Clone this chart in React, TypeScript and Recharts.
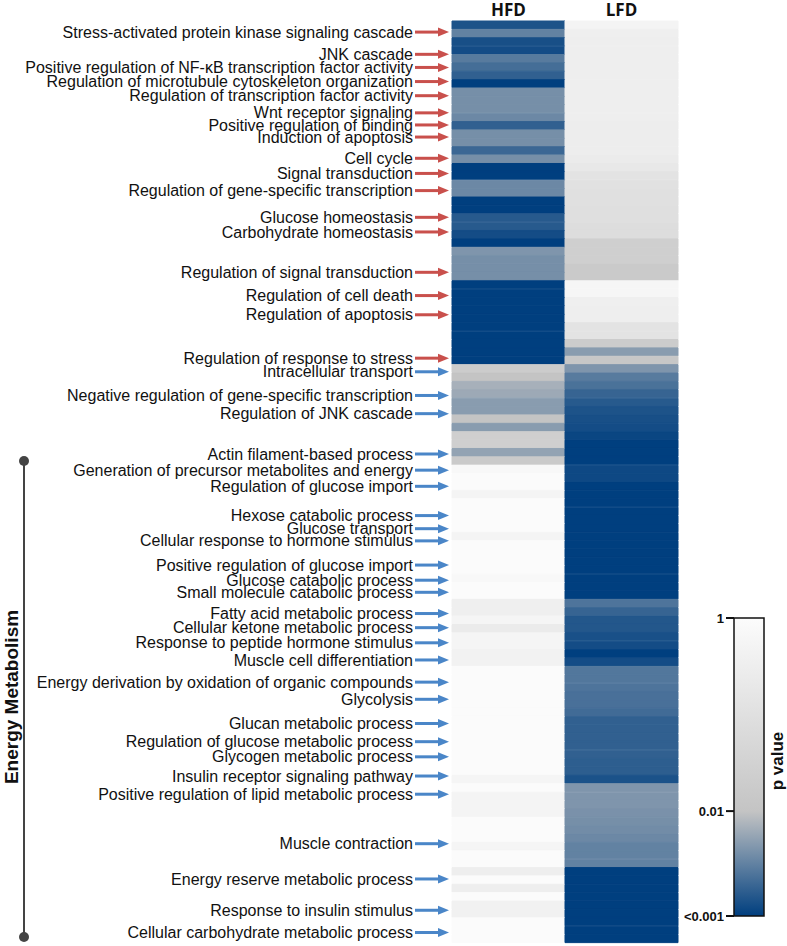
import React from 'react';
import { BarChart, Bar, XAxis, YAxis, Cell } from 'recharts';

// -log10(p) per heatmap row, top to bottom
const hfdScore = [
  2.85, 2.5, 2.88, 2.9, 2.55, 2.65, 2.75, 3, 2.4, 2.4,
  2.4, 2.45, 2.75, 2.4, 2.4, 2.7, 2.4, 3, 3, 2.45,
  2.45, 3, 3, 2.8, 2.8, 2.9, 3, 2.35, 2.4, 2.4,
  2.4, 3, 3, 3, 3, 3, 3, 3, 3, 3,
  3, 1.7, 2.0, 2.15, 2.2, 2.3, 2.3, 2.0, 2.3, 1.6,
  1.6, 2.25, 1.8, 0.15, 0.05, 0.05, 0.3, 0.05, 0.05, 0.05,
  0.05, 0.3, 0.05, 0.05, 0.05, 0.05, 0.15, 0.05, 0.05, 0.45,
  0.45, 0.25, 0.6, 0.25, 0.25, 0.35, 0.35, 0.03, 0.03, 0.03,
  0.03, 0.03, 0.03, 0.03, 0.03, 0.03, 0.03, 0.03, 0.03, 0.03,
  0.25, 0.03, 0.3, 0.3, 0.3, 0.03, 0.03, 0.03, 0.25, 0.03,
  0.03, 0.5, 0.03, 0.5, 0.03, 0.4, 0.4, 0.03, 0.03, 0.03,
];

const lfdScore = [
  0.3, 0.45, 0.5, 0.5, 0.5, 0.5, 0.5, 0.5, 0.5, 0.5,
  0.5, 0.5, 0.55, 0.55, 0.55, 0.55, 0.6, 0.7, 0.9, 0.95,
  1.0, 1.0, 1.05, 1.05, 1.1, 1.1, 1.6, 1.6, 1.6, 1.8,
  1.8, 0.2, 0.2, 0.45, 0.5, 0.5, 0.9, 0.9, 1.7, 2.3,
  1.9, 2.35, 2.55, 2.62, 2.72, 2.8, 2.85, 2.88, 2.9, 2.95,
  3, 3, 3, 2.93, 2.93, 3, 3, 3, 3, 3,
  3, 3, 3, 3, 3, 3, 3, 3, 3, 2.6,
  2.72, 2.82, 2.82, 2.87, 2.9, 3, 2.9, 2.58, 2.58, 2.6,
  2.63, 2.63, 2.67, 2.75, 2.75, 2.75, 2.75, 2.75, 2.77, 2.77,
  2.86, 2.35, 2.35, 2.35, 2.38, 2.4, 2.42, 2.45, 2.5, 2.5,
  2.5, 3, 3, 3, 3, 3, 3, 3, 3, 3,
];

const pathwayLabels = [
  'Stress-activated protein kinase signaling cascade',
  'JNK cascade',
  'Positive regulation of NF-\u03BAB transcription factor activity',
  'Regulation of microtubule cytoskeleton organization',
  'Regulation of transcription factor activity',
  'Wnt receptor signaling',
  'Positive regulation of binding',
  'Induction of apoptosis',
  'Cell cycle',
  'Signal transduction',
  'Regulation of gene-specific transcription',
  'Glucose homeostasis',
  'Carbohydrate homeostasis',
  'Regulation of signal transduction',
  'Regulation of cell death',
  'Regulation of apoptosis',
  'Regulation of response to stress',
  'Intracellular transport',
  'Negative regulation of gene-specific transcription',
  'Regulation of JNK cascade',
  'Actin filament-based process',
  'Generation of precursor metabolites and energy',
  'Regulation of glucose import',
  'Hexose catabolic process',
  'Glucose transport',
  'Cellular response to hormone stimulus',
  'Positive regulation of glucose import',
  'Glucose catabolic process',
  'Small molecule catabolic process',
  'Fatty acid metabolic process',
  'Cellular ketone metabolic process',
  'Response to peptide hormone stimulus',
  'Muscle cell differentiation',
  'Energy derivation by oxidation of organic compounds',
  'Glycolysis',
  'Glucan metabolic process',
  'Regulation of glucose metabolic process',
  'Glycogen metabolic process',
  'Insulin receptor signaling pathway',
  'Positive regulation of lipid metabolic process',
  'Muscle contraction',
  'Energy reserve metabolic process',
  'Response to insulin stimulus',
  'Cellular carbohydrate metabolic process',
];

// label position in row units (0 = top edge of heatmap)
const labelRows = [
  1.31, 3.94, 5.49, 7.16, 8.83, 10.86, 12.29, 13.72, 16.23, 18.02,
  20.05, 23.21, 24.94, 29.71, 32.46, 34.73, 39.86, 41.47, 44.27, 46.42,
  51.19, 53.1, 55.01, 58.47, 60.02, 61.46, 64.32, 66.11, 67.54, 70.05,
  71.72, 73.51, 75.54, 78.16, 80.19, 83.05, 85.2, 86.99, 89.26, 91.41,
  97.26, 101.43, 105.13, 107.76,
];
const hfdLabelCount = 17;

const columnNames = ['HFD', 'LFD'];
const columnTicks = [0.5, 1.5];

const legendLabels = ['1', '0.01', '<0.001'];
const legendScores = [0, 2, 3];

const WHITE = [252, 252, 252];
const GREY = [196, 196, 196];
const BLUE = [0, 63, 127];

const mix = (a: number[], b: number[], t: number) =>
  `rgb(${a.map((v, i) => Math.round(v + (b[i] - v) * t)).join(',')})`;

const scoreColor = (s: number) =>
  s <= 2 ? mix(WHITE, GREY, s / 2) : mix(GREY, BLUE, Math.min(1, s - 2));

// fraction down the colour bar for a score
const legendPos = (s: number) => (s <= 2 ? (s / 2) * 0.648 : 0.648 + (s - 2) * 0.352);

const data = hfdScore.map((h, i) => ({
  row: i,
  hfd: 1,
  lfd: 1,
  hfdScore: h,
  lfdScore: lfdScore[i],
}));

const FONT = '"Liberation Sans", Arial, sans-serif';

const PathwayTick = (props: any) => {
  const { x, y, payload } = props;
  const i = labelRows.indexOf(payload.value);
  if (i < 0) return null;
  const color = i < hfdLabelCount ? '#c9504c' : '#4a86c8';
  return (
    <g>
      <text x={x - 39} y={y} dy="0.35em" textAnchor="end" fontSize={16} fill="#111" fontFamily={FONT}>
        {pathwayLabels[i]}
      </text>
      <rect x={x - 37} y={y - 1.5} width={24} height={3} fill={color} />
      <polygon points={`${x - 14},${y - 4.5} ${x - 3},${y} ${x - 14},${y + 4.5}`} fill={color} />
    </g>
  );
};

const HeaderTick = (props: any) => {
  const { x, y, payload } = props;
  const i = columnTicks.indexOf(payload.value);
  return (
    <text x={x} y={y} textAnchor="middle" fontSize={17} fontWeight="bold" fill="#111" fontFamily='"Open Sans", sans-serif'>
      {columnNames[i]}
    </text>
  );
};

const ColorBar = () => {
  const x = 734;
  const top = 618;
  const h = 298;
  const stops = [0, 0.5, 1, 1.5, 2, 2.25, 2.5, 2.75, 3];
  return (
    <g>
      <defs>
        <linearGradient id="pgrad" x1="0" y1="0" x2="0" y2="1">
          {stops.map((s) => (
            <stop key={s} offset={legendPos(s)} stopColor={scoreColor(s)} />
          ))}
        </linearGradient>
      </defs>
      <rect x={x} y={top} width={30} height={h} fill="url(#pgrad)" stroke="#111" strokeWidth={1.5} />
      {legendScores.map((s, i) => {
        const ty = top + legendPos(s) * h;
        return (
          <g key={s}>
            <line x1={x - 8} x2={x} y1={ty} y2={ty} stroke="#111" strokeWidth={2} />
            <text x={x - 10} y={ty} dy="0.35em" textAnchor="end" fontSize={13} fontWeight="bold" fill="#111" fontFamily={FONT}>
              {legendLabels[i]}
            </text>
          </g>
        );
      })}
      <text
        transform="translate(777,761) rotate(-90)"
        textAnchor="middle"
        dy="0.35em"
        fontSize={17}
        fontWeight="bold"
        fill="#111"
        fontFamily={FONT}
      >
        p value
      </text>
    </g>
  );
};

const GroupBracket = () => (
  <g>
    <line x1={24} x2={24} y1={461} y2={937} stroke="#444" strokeWidth={2} />
    <circle cx={24} cy={461} r={5} fill="#444" />
    <circle cx={24} cy={937} r={5} fill="#444" />
    <text
      transform="translate(11,697) rotate(-90)"
      textAnchor="middle"
      dy="0.35em"
      fontSize={19}
      fontWeight="bold"
      fill="#111"
      fontFamily={FONT}
    >
      Energy Metabolism
    </text>
  </g>
);

export default function App() {
  return (
    <div style={{ position: 'absolute', left: 0, top: 0, background: '#fff' }}>
      <BarChart
        width={787}
        height={946}
        data={data}
        layout="vertical"
        barCategoryGap={0}
        margin={{ top: 0, right: 109, bottom: 3, left: 0 }}
      >
        <XAxis
          type="number"
          domain={[0, 2]}
          orientation="top"
          height={21}
          ticks={columnTicks}
          tick={<HeaderTick />}
          axisLine={false}
          tickLine={false}
          tickSize={0}
          tickMargin={5}
        />
        <YAxis dataKey="row" type="category" hide width={0} />
        <YAxis
          yAxisId="labels"
          type="number"
          domain={[0, 110]}
          allowDataOverflow
          ticks={labelRows}
          interval={0}
          width={452}
          tick={<PathwayTick />}
          axisLine={false}
          tickLine={false}
          tickSize={0}
          tickMargin={0}
        />
        <Bar dataKey="hfd" stackId="col" isAnimationActive={false}>
          {data.map((d) => (
            <Cell key={`h-${d.row}`} fill={scoreColor(d.hfdScore)} stroke={scoreColor(d.hfdScore)} strokeWidth={1} />
          ))}
        </Bar>
        <Bar dataKey="lfd" stackId="col" isAnimationActive={false}>
          {data.map((d) => (
            <Cell key={`l-${d.row}`} fill={scoreColor(d.lfdScore)} stroke={scoreColor(d.lfdScore)} strokeWidth={1} />
          ))}
        </Bar>
        <ColorBar />
        <GroupBracket />
      </BarChart>
    </div>
  );
}
